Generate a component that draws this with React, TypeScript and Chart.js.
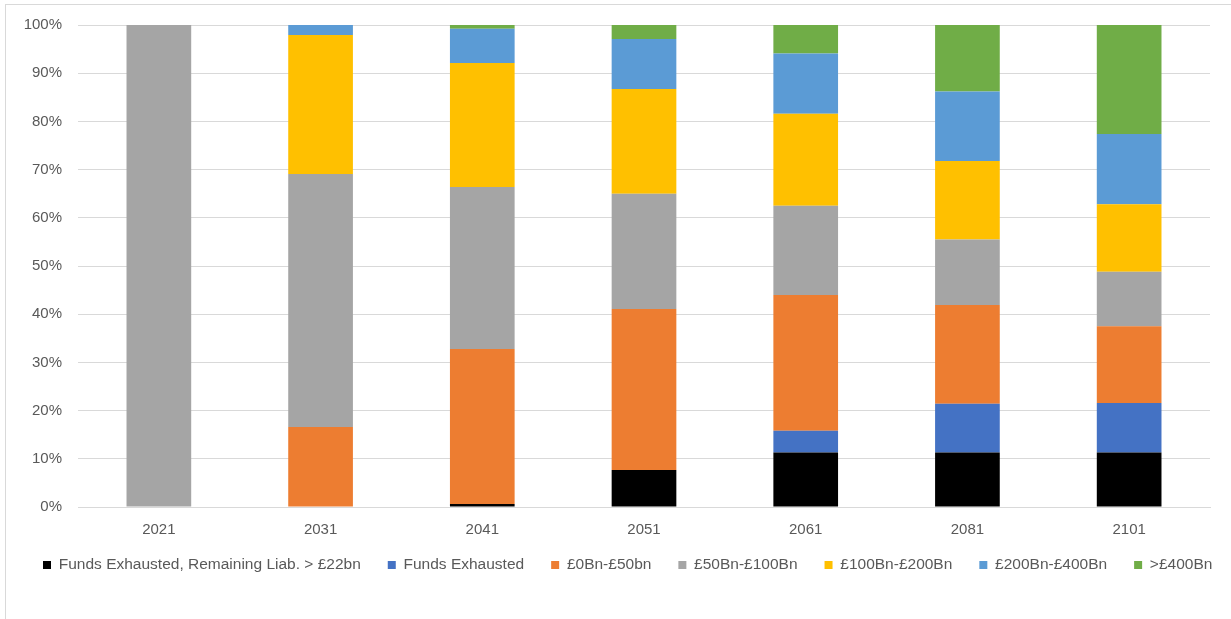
import React, { useEffect, useRef } from "react";
import { Chart, registerables } from "chart.js";

Chart.register(...registerables);

const years = ["2021", "2031", "2041", "2051", "2061", "2081", "2101"];
const exhaustedLiab = [0, 0, 0.6, 7.7, 11.3, 11.3, 11.3];
const exhausted = [0, 0, 0, 0, 4.5, 10.1, 10.3];
const band0to50 = [0, 16.6, 32.2, 33.4, 28.2, 20.5, 15.9];
const band50to100 = [100, 52.5, 33.6, 23.9, 18.5, 13.6, 11.3];
const band100to200 = [0, 28.8, 25.7, 21.7, 19.1, 16.3, 14.0];
const band200to400 = [0, 2.1, 7.1, 10.4, 12.5, 14.4, 14.6];
const over400 = [0, 0, 0.8, 2.9, 5.9, 13.8, 22.6];

const seriesLabels = [
  "Funds Exhausted, Remaining Liab. > £22bn",
  "Funds Exhausted",
  "£0Bn-£50bn",
  "£50Bn-£100Bn",
  "£100Bn-£200Bn",
  "£200Bn-£400Bn",
  ">£400Bn",
];
const seriesColors = ["#000000", "#4472C4", "#ED7D31", "#A5A5A5", "#FFC000", "#5B9BD5", "#70AD47"];
const seriesData = [exhaustedLiab, exhausted, band0to50, band50to100, band100to200, band200to400, over400];

const FONT = "'Liberation Sans', Arial, sans-serif";

export default function App() {
  const ref = useRef<HTMLCanvasElement | null>(null);
  useEffect(() => {
    if (!ref.current) return;
    const chart = new Chart(ref.current, {
      type: "bar",
      data: {
        labels: years,
        datasets: seriesData.map((d, i) => ({
          label: seriesLabels[i],
          data: d,
          backgroundColor: seriesColors[i],
          borderWidth: 0,
          categoryPercentage: 1,
          barPercentage: 0.4,
          yAxisID: "y",
        })),
      },
      options: {
        animation: false,
        responsive: false,
        maintainAspectRatio: false,
        layout: { padding: { left: 16, right: -20, top: 25, bottom: 36.25 } },
        plugins: {
          tooltip: { enabled: false },
          legend: {
            position: "bottom",
            align: "start",
            labels: {
              boxWidth: 8,
              boxHeight: 8,
              padding: 27,
              color: "#595959",
              font: { family: FONT, size: 15.5 },
            },
          },
        },
        scales: {
          x: {
            stacked: true,
            grid: { display: false, drawTicks: false },
            border: { display: true, color: "#D9D9D9", width: 1 },
            ticks: {
              color: "#595959",
              mirror: true,
              padding: -32,
              font: { family: FONT, size: 15 },
            },
            afterFit: (s: any) => {
              s.height = 23.25;
            },
          },
          y: {
            stacked: true,
            min: 0,
            max: 100,
            grid: { color: "#D9D9D9", lineWidth: 1, drawTicks: false },
            border: { display: false },
            ticks: {
              stepSize: 10,
              padding: 16,
              color: "#595959",
              font: { family: FONT, size: 15 },
              callback: (v: any) => v + "%",
            },
            afterFit: (s: any) => {
              s.width = 62;
            },
          },
          spacer: {
            type: "linear",
            position: "right",
            display: true,
            grid: { display: false, drawTicks: false },
            border: { display: false },
            ticks: { display: false },
            afterFit: (s: any) => {
              s.width = 41;
            },
          },
        },
      },
    });
    return () => chart.destroy();
  }, []);

  return (
    <div
      style={{
        position: "fixed",
        left: 0,
        top: 0,
        width: 1231,
        height: 619,
        overflow: "hidden",
        background: "#FFFFFF",
      }}
    >
      <div
        style={{
          position: "absolute",
          left: 5,
          top: 4,
          width: 1400,
          height: 800,
          border: "1px solid #D9D9D9",
          boxSizing: "border-box",
        }}
      />
      <canvas ref={ref} width={1231} height={619} style={{ position: "absolute", left: 0, top: 0 }} />
    </div>
  );
}
